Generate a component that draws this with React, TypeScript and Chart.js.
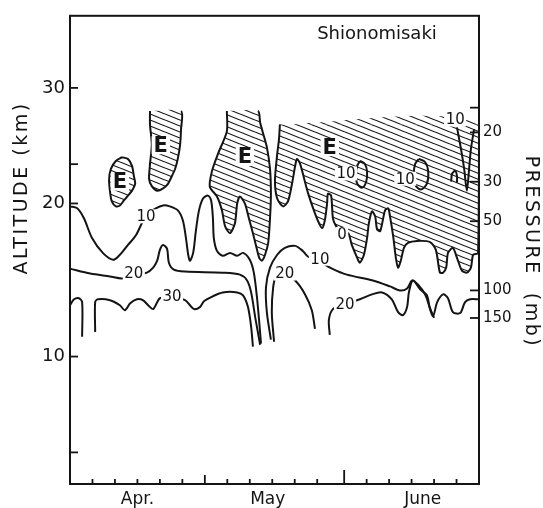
import React, { useEffect, useRef } from 'react';
import { Chart, LinearScale, registerables } from 'chart.js';

// ---------- axis calibration (altitude axis of the scanned figure is not uniform) ----------
const ALT_KM_KNOTS = [3.35, 5, 10, 20, 30, 36.2];
const ALT_FRAC_KNOTS = [0, 0.0675, 0.2722, 0.5992, 0.846, 1];

// ---------- axes ----------
const DAY_MIN = 0; // 1 April
const DAY_MAX = 91; // 30 June
const MONTH_LABELS = ['Apr.', 'May', 'June'];
const MONTH_LABEL_DAYS = [15, 44, 78.5];
const DAY_TICKS = [5, 10, 15, 20, 25, 30, 35, 40, 45, 50, 55, 61, 66, 71, 76, 81, 86];
const MAY_START = 30;
const JUNE_START = 61;

const ALT_LABEL_KM = [10, 20, 30];
const ALT_MINOR_KM = [5, 23.4];
const PRESSURE_LABELS = ['20', '30', '50', '100', '150'];
const PRESSURE_KM = [26.15, 21.88, 18.84, 14.32, 12.52];
const PRESSURE_EXTRA_KM = [28.29];

// ---------- easterly (hatched) regions: [day, km] ----------
const E_OVAL = [[11.6,24.0],[12.9,23.85],[13.8,23.25],[14.2,22.39],[14.5,21.71],[13.8,21.11],[12.9,20.68],[12.0,20.26],[11.1,19.87],[10.2,19.81],[9.3,20.17],[8.9,21.03],[8.7,22.05],[9.1,22.99],[10.2,23.68],[11.6,24.0]];
const E_TONGUE = [[17.8,28.0],[17.8,26.8],[18.2,25.1],[17.8,23.4],[17.6,22.1],[18.2,21.5],[19.4,21.1],[20.7,21.3],[21.8,21.7],[22.7,22.4],[23.4,23.0],[24.0,23.9],[24.5,25.1],[24.7,26.4],[24.7,28.0],[17.8,28.0]];
const E_MAY = [[34.9,28.0],[34.9,26.24],[32.9,24.27],[31.6,22.82],[31.1,21.45],[32.7,20.6],[33.8,19.55],[34.5,18.52],[35.6,18.06],[36.7,18.71],[37.2,20.0],[37.8,20.6],[38.9,20.0],[39.8,19.03],[40.7,18.06],[41.4,17.23],[42.1,16.45],[42.7,16.26],[43.4,16.65],[44.1,17.42],[44.5,19.03],[44.7,20.85],[44.5,22.99],[43.8,24.87],[42.9,26.15],[42.3,27.0],[41.8,28.0],[34.9,28.0]];
const E_SHEET = [[46.7,26.84],[46.5,25.56],[46.1,24.27],[45.6,21.97],[46.1,20.43],[47.4,19.81],[48.5,20.17],[49.4,21.71],[50.1,23.25],[50.5,23.85],[51.2,23.42],[52.1,22.14],[53.0,20.85],[54.1,19.68],[55.2,18.84],[56.1,18.39],[56.7,18.9],[57.2,20.0],[57.4,20.85],[58.1,20.68],[58.5,19.03],[59.2,18.52],[60.5,18.06],[61.9,18.06],[62.7,17.29],[63.9,16.45],[64.5,16.13],[65.4,16.65],[66.1,17.74],[66.5,18.71],[67.2,19.48],[67.9,19.16],[68.3,18.32],[69.0,18.19],[69.6,18.9],[70.1,19.55],[70.8,19.68],[71.2,19.16],[71.9,17.87],[72.5,16.45],[73.0,15.81],[73.6,16.26],[74.3,17.1],[75.2,17.42],[77.2,17.55],[80.1,17.48],[81.4,16.97],[82.3,15.48],[83.0,15.48],[83.7,15.81],[84.1,16.77],[85.2,17.1],[86.1,16.45],[87.2,15.61],[88.3,15.48],[89.2,15.81],[89.7,16.65],[90.8,16.77],[91,26.84],[46.7,26.84]];
const TOP_TONGUE_KM = 28.0;
const TOP_SHEET_KM = 26.84;

// ---------- isotachs (m/s): [day, km] ----------
const C10_WEST = [[0,19.81],[1.6,19.68],[3.1,19.03],[4.9,17.74],[7.3,16.77],[9.6,16.32],[11.1,16.65],[12.9,17.29],[14.7,17.94],[16.9,19.2],[19.1,19.68],[20.7,19.87],[22.2,19.81],[24.0,19.55],[25.1,18.9],[25.8,17.74],[26.3,16.65],[26.7,16.26],[27.4,16.77],[28.0,18.19],[28.7,19.55],[29.6,20.43],[30.7,20.68],[31.4,20.26],[31.8,19.03],[32.0,17.74],[32.7,16.9],[34.0,16.58],[35.6,16.77],[37.2,16.58],[38.5,16.77],[40.0,16.32],[40.9,15.48],[41.6,13.87],[42.1,12.26],[42.5,10.84]];
const C10_EAST = [[44.7,11.1],[43.8,12.9],[43.6,14.52],[44.5,15.81],[46.1,16.65],[47.8,17.1],[50.1,17.23],[51.8,16.9],[53.0,16.52],[55.6,16.2],[58.3,15.74],[61.6,15.35],[67.4,14.97],[71.2,14.58],[73.4,14.32],[75.0,14.45],[76.1,14.97],[77.4,14.71],[79.0,14.06],[80.1,13.16],[81.0,12.52]];
const C20_WEST = [[0,15.74],[4.5,15.42],[8.9,15.23],[11.6,15.1],[14.2,15.3],[17.1,15.48],[18.5,15.81],[19.4,16.26],[20.0,16.97],[20.7,17.29],[21.6,17.03],[22.0,16.13],[23.1,15.68],[25.6,15.55],[34.0,15.48],[37.8,15.35],[39.4,14.97],[40.3,14.19],[41.2,12.58],[42.3,10.77]];
const C20_MID = [[45.4,10.97],[44.9,12.9],[45.2,14.52],[45.8,15.16],[47.8,15.42],[50.3,14.9],[52.3,14.06],[53.8,13.03],[54.5,11.81]];
const C20_EAST = [[57.8,11.42],[57.6,12.39],[58.5,13.1],[61.2,13.42],[64.5,13.74],[67.2,14.06],[69.4,14.19],[71.6,13.74],[73.0,12.9],[74.1,12.71],[75.0,13.23],[75.4,14.19],[76.3,14.97],[77.9,14.39],[79.4,14.0],[80.1,13.1],[80.8,12.65],[81.7,13.55],[83.0,14.06],[84.1,13.81],[85.2,12.9],[86.8,12.84],[87.9,13.55],[89.0,13.74],[91,13.74]];
const C30_EDGE = [[0,13.35],[0.9,13.74],[2.0,13.81],[2.7,13.55],[2.7,11.29]];
const C30_MAIN = [[5.6,11.61],[5.6,13.55],[6.2,13.74],[8.9,13.68],[11.1,13.35],[12.2,13.03],[13.4,13.48],[14.9,13.74],[16.2,13.68],[17.6,13.29],[18.5,13.1],[19.4,13.55],[20.0,13.81],[22.7,13.94],[25.6,13.68],[26.7,13.35],[27.6,13.1],[28.9,13.23],[29.8,13.61],[31.8,13.94],[34.0,14.19],[37.2,14.19],[38.5,14.0],[39.6,13.23],[40.3,11.94],[40.7,10.65]];
const E10_LOOP_A = [[64.5,23.68],[65.6,23.42],[66.1,22.74],[65.9,21.88],[65.0,21.37],[63.9,21.71],[63.6,22.56],[63.9,23.25],[64.5,23.68]];
const E10_LOOP_B = [[77.6,23.85],[79.0,23.59],[79.7,22.74],[79.4,21.71],[78.1,21.2],[76.8,21.62],[76.5,22.56],[76.8,23.42],[77.6,23.85]];
const E10_VEE = [[86.1,26.58],[87.0,24.7],[87.7,22.99],[88.3,21.11],[88.8,22.99],[89.2,24.7],[89.9,26.41]];
const E10_HOOK = [[84.8,21.88],[85.0,22.56],[85.7,22.82],[86.1,22.39],[86.1,21.8]];

// ---------- labels ----------
const E_LABEL_DAY = [11.1, 20.2, 38.9, 57.8];
const E_LABEL_KM = [21.88, 25.04, 24.02, 24.87];
const ISO_LABEL_TEXT = ['10', '20', '30', '20', '10', '20', '0', '10', '10', '10'];
const ISO_LABEL_DAY = [16.9, 14.2, 22.7, 47.8, 55.6, 61.2, 60.5, 61.4, 74.6, 85.7];
const ISO_LABEL_KM = [19.16, 15.42, 13.94, 15.42, 16.39, 13.42, 18.0, 22.6, 22.14, 27.26];

const INK = '#141414';
const FONT = "'DejaVu Sans', 'Liberation Sans', sans-serif";

function kmToFrac(v: number) {
  const k = ALT_KM_KNOTS, f = ALT_FRAC_KNOTS;
  let i = 0;
  if (v <= k[0]) i = 0;
  else if (v >= k[k.length - 1]) i = k.length - 2;
  else while (i < k.length - 2 && v > k[i + 1]) i++;
  return f[i] + ((v - k[i]) / (k[i + 1] - k[i])) * (f[i + 1] - f[i]);
}
function fracToKm(fr: number) {
  const k = ALT_KM_KNOTS, f = ALT_FRAC_KNOTS;
  let i = 0;
  if (fr <= f[0]) i = 0;
  else if (fr >= f[f.length - 1]) i = f.length - 2;
  else while (i < f.length - 2 && fr > f[i + 1]) i++;
  return k[i] + ((fr - f[i]) / (f[i + 1] - f[i])) * (k[i + 1] - k[i]);
}

class PiecewiseScale extends LinearScale {
  static id = 'piecewise';
  getPixelForValue(value: any) {
    if (value == null || !isFinite(value)) return NaN;
    const s: any = this;
    return s.bottom - kmToFrac(value) * (s.bottom - s.top);
  }
  getValueForPixel(pixel: number) {
    const s: any = this;
    return fracToKm((s.bottom - pixel) / (s.bottom - s.top));
  }
}

Chart.register(...registerables, PiecewiseScale as any);

const toPts = (a: number[][]) => a.map(([x, y]) => ({ x, y }));

function makeHatch(): any {
  const c = document.createElement('canvas');
  const W = 15, H = 6;
  c.width = W; c.height = H;
  const g = c.getContext('2d')!;
  g.strokeStyle = '#151515';
  g.lineWidth = 1.15;
  for (let k = -2; k <= 2; k++) {
    g.beginPath();
    g.moveTo(-W, k * H - H);
    g.lineTo(2 * W, k * H + 2 * H);
    g.stroke();
  }
  return g.createPattern(c, 'repeat');
}

const hideTop = (top: number) => ({
  borderColor: (c: any) =>
    c.p0.parsed.y >= top - 0.01 && c.p1.parsed.y >= top - 0.01 ? 'rgba(0,0,0,0)' : INK,
});

const decor = {
  id: 'decor',
  afterDatasetsDraw(chart: any) {
    const { ctx, chartArea: a, scales } = chart;
    const xs = scales.x, ys = scales.y;
    ctx.save();
    ctx.strokeStyle = INK;
    ctx.fillStyle = INK;
    ctx.lineCap = 'butt';
    // frame
    ctx.lineWidth = 2;
    ctx.strokeRect(a.left, a.top, a.right - a.left, a.bottom - a.top);
    // ticks
    const seg = (x1: number, y1: number, x2: number, y2: number) => {
      ctx.beginPath(); ctx.moveTo(x1, y1); ctx.lineTo(x2, y2); ctx.stroke();
    };
    ctx.lineWidth = 1.8;
    for (const v of [...ALT_LABEL_KM, ...ALT_MINOR_KM]) {
      const py = ys.getPixelForValue(v);
      seg(a.left, py, a.left + 8, py);
    }
    for (const v of [...PRESSURE_KM, ...PRESSURE_EXTRA_KM]) {
      const py = ys.getPixelForValue(v);
      seg(a.right - 9, py, a.right, py);
    }
    for (const d of DAY_TICKS) {
      const px = xs.getPixelForValue(d);
      const len = d === JUNE_START ? 14 : d === MAY_START ? 9 : 5;
      seg(px, a.bottom, px, a.bottom - len);
    }
    // isotach labels
    ctx.textAlign = 'center';
    ctx.textBaseline = 'middle';
    ctx.font = `15px ${FONT}`;
    ISO_LABEL_TEXT.forEach((t, i) => {
      const px = xs.getPixelForValue(ISO_LABEL_DAY[i]);
      const py = ys.getPixelForValue(ISO_LABEL_KM[i]);
      const w = ctx.measureText(t).width;
      ctx.fillStyle = '#fff';
      ctx.fillRect(px - w / 2 - 1.5, py - 7, w + 3, 14);
      ctx.fillStyle = INK;
      ctx.fillText(t, px, py + 1);
    });
    // easterly labels
    ctx.font = `bold 21px ${FONT}`;
    E_LABEL_DAY.forEach((d, i) => {
      const px = xs.getPixelForValue(d);
      const py = ys.getPixelForValue(E_LABEL_KM[i]);
      const w = ctx.measureText('E').width;
      ctx.fillStyle = '#fff';
      ctx.fillRect(px - w / 2 - 2, py - 9, w + 4, 18);
      ctx.fillStyle = INK;
      ctx.fillText('E', px, py + 1);
    });
    // station name
    ctx.font = `18px ${FONT}`;
    ctx.textAlign = 'center';
    ctx.fillText('Shionomisaki', a.right - 102, a.top + 19);
    // axis titles
    ctx.font = `19px ${FONT}`;
    (ctx as any).letterSpacing = '2.5px';
    ctx.save();
    ctx.translate(22, 188);
    ctx.rotate(-Math.PI / 2);
    ctx.fillText('ALTITUDE (km)', 0, 0);
    ctx.restore();
    ctx.save();
    ctx.translate(531, 252);
    ctx.rotate(Math.PI / 2);
    ctx.fillText('PRESSURE  (mb)', 0, 0);
    ctx.restore();
    ctx.restore();
  },
};

export default function App() {
  const ref = useRef<HTMLCanvasElement>(null);
  useEffect(() => {
    const canvas = ref.current!;
    const hatch = makeHatch();
    const area = (data: number[][], top: number | null) => ({
      data: toPts(data),
      borderColor: INK,
      borderWidth: 2,
      backgroundColor: hatch,
      fill: 'shape',
      tension: 0.25,
      pointRadius: 0,
      segment: top == null ? undefined : hideTop(top),
    });
    const iso = (data: number[][]) => ({
      data: toPts(data),
      borderColor: INK,
      borderWidth: 2,
      fill: false,
      tension: 0.3,
      pointRadius: 0,
    });
    const chart = new Chart(canvas, {
      type: 'line',
      data: {
        datasets: [
          area(E_OVAL, null),
          area(E_TONGUE, TOP_TONGUE_KM),
          area(E_MAY, TOP_TONGUE_KM),
          area(E_SHEET, TOP_SHEET_KM),
          iso(C10_WEST),
          iso(C10_EAST),
          iso(C20_WEST),
          iso(C20_MID),
          iso(C20_EAST),
          iso(C30_EDGE),
          iso(C30_MAIN),
          iso(E10_LOOP_A),
          iso(E10_LOOP_B),
          iso(E10_VEE),
          iso(E10_HOOK),
        ] as any,
      },
      options: {
        animation: false,
        responsive: false,
        devicePixelRatio: 1,
        layout: { padding: { top: 10, left: 0, right: 0, bottom: 0 } },
        plugins: { legend: { display: false }, tooltip: { enabled: false } },
        events: [],
        scales: {
          x: {
            type: 'linear',
            position: 'bottom',
            min: DAY_MIN,
            max: DAY_MAX,
            grid: { display: false, drawTicks: false },
            border: { display: false },
            afterFit: (s: any) => { s.height = 24; },
            afterBuildTicks: (s: any) => { s.ticks = MONTH_LABEL_DAYS.map((v) => ({ value: v })); },
            ticks: {
              autoSkip: false,
              maxRotation: 0,
              padding: 5,
              color: INK,
              font: { family: FONT, size: 17 },
              callback: (_v: any, i: number) => MONTH_LABELS[i],
            },
          },
          y: {
            type: 'piecewise' as any,
            position: 'left',
            min: ALT_KM_KNOTS[0],
            max: ALT_KM_KNOTS[ALT_KM_KNOTS.length - 1],
            grid: { display: false, drawTicks: false },
            border: { display: false },
            afterFit: (s: any) => { s.width = 70; },
            afterBuildTicks: (s: any) => { s.ticks = ALT_LABEL_KM.map((v) => ({ value: v })); },
            ticks: {
              autoSkip: false,
              padding: 5,
              color: INK,
              font: { family: FONT, size: 18 },
              callback: (v: any) => String(v),
            },
          },
          y2: {
            type: 'piecewise' as any,
            position: 'right',
            min: ALT_KM_KNOTS[0],
            max: ALT_KM_KNOTS[ALT_KM_KNOTS.length - 1],
            grid: { display: false, drawTicks: false },
            border: { display: false },
            afterFit: (s: any) => { s.width = 64; },
            afterBuildTicks: (s: any) => { s.ticks = PRESSURE_KM.map((v) => ({ value: v })); },
            ticks: {
              autoSkip: false,
              padding: 4,
              color: INK,
              font: { family: FONT, size: 15 },
              callback: (_v: any, i: number) => PRESSURE_LABELS[i],
            },
          },
        } as any,
      },
      plugins: [decor],
    });
    return () => chart.destroy();
  }, []);
  return (
    <div style={{ position: 'absolute', left: 0, top: 0, width: 543, height: 508, background: '#fff' }}>
      <canvas ref={ref} width={543} height={508} style={{ display: 'block', width: 543, height: 508 }} />
    </div>
  );
}
